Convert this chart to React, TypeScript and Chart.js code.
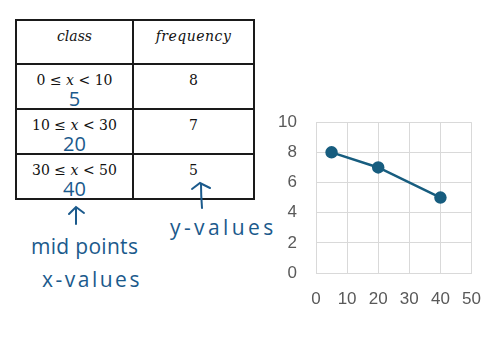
import React, { useEffect, useRef } from "react";
import { Chart, registerables } from "chart.js";

Chart.register(...registerables);

const classLabels = ["0 ≤ x < 10", "10 ≤ x < 30", "30 ≤ x < 50"];
const midpoints = [5, 20, 40];
const frequencies = [8, 7, 5];
const xTicks = [0, 10, 20, 30, 40, 50];
const yTicks = [0, 2, 4, 6, 8, 10];

const INK = "#1b5a8c";

function ClassText({ label }: { label: string }) {
  const parts = label.split("x");
  return (
    <span>
      {parts[0]}
      <i>x</i>
      {parts[1]}
    </span>
  );
}

function TableBox() {
  const rowsTop = [20, 64, 109, 154, 199];
  const left = 16;
  const mid = 133;
  const right = 254;
  const cellStyle: React.CSSProperties = {
    position: "absolute",
    fontFamily: "'DejaVu Serif', 'Liberation Serif', serif",
    fontSize: 14,
    color: "#111",
    textAlign: "center",
    whiteSpace: "nowrap",
  };
  const lines: React.ReactNode[] = [];
  rowsTop.forEach((y, i) =>
    lines.push(
      <div
        key={"h" + i}
        style={{ position: "absolute", left: left - 1, top: y - 1, width: right - left + 2, height: 2, background: "#1a1a1a" }}
      />
    )
  );
  [left, mid, right].forEach((x, i) =>
    lines.push(
      <div
        key={"v" + i}
        style={{ position: "absolute", left: x - 1, top: rowsTop[0] - 1, width: 2, height: rowsTop[4] - rowsTop[0] + 2, background: "#1a1a1a" }}
      />
    )
  );
  return (
    <>
      {lines}
      <div style={{ ...cellStyle, left, width: mid - left, top: 28, fontStyle: "italic" }}>class</div>
      <div style={{ ...cellStyle, left: mid, width: right - mid, top: 28, fontStyle: "italic", letterSpacing: 0.5 }}>frequency</div>
      {classLabels.map((c, i) => (
        <div key={"c" + i} style={{ ...cellStyle, left, width: mid - left, top: rowsTop[i + 1] + 8 }}>
          <ClassText label={c} />
        </div>
      ))}
      {frequencies.map((f, i) => (
        <div key={"f" + i} style={{ ...cellStyle, left: mid, width: right - mid, top: rowsTop[i + 1] + 8 }}>
          {f}
        </div>
      ))}
      {midpoints.map((m, i) => (
        <div
          key={"m" + i}
          style={{
            ...cellStyle,
            left,
            width: mid - left,
            top: rowsTop[i + 1] + 24,
            fontFamily: "'Open Sans', 'DejaVu Sans', sans-serif",
            fontSize: 20,
            color: INK,
            lineHeight: "22px",
          }}
        >
          {m}
        </div>
      ))}
    </>
  );
}

function Annotations() {
  const hand: React.CSSProperties = {
    position: "absolute",
    fontFamily: "'Open Sans', 'DejaVu Sans', sans-serif",
    fontSize: 21,
    color: INK,
    whiteSpace: "nowrap",
    lineHeight: "26px",
  };
  return (
    <>
      <svg style={{ position: "absolute", left: 0, top: 0 }} width={496} height={351}>
        <g stroke={INK} strokeWidth={2} fill="none" strokeLinecap="round">
          <path d="M76 224 L76 207 M69 214 L76 207 L84 213" />
          <path d="M202 208 Q201 195 201 184 M192 189 L200 183 L210 188" />
        </g>
      </svg>
      <div style={{ ...hand, left: 31, top: 233, letterSpacing: 0.3 }}>mid points</div>
      <div style={{ ...hand, left: 42, top: 266, letterSpacing: 2.5 }}>x-values</div>
      <div style={{ ...hand, left: 170, top: 214, letterSpacing: 3.4 }}>y-values</div>
    </>
  );
}

function LineChart() {
  const ref = useRef<HTMLCanvasElement | null>(null);
  useEffect(() => {
    if (!ref.current) return;
    const chart = new Chart(ref.current, {
      type: "scatter",
      data: {
        datasets: [
          {
            data: midpoints.map((x, i) => ({ x, y: frequencies[i] })),
            showLine: true,
            borderColor: "#175d7f",
            backgroundColor: "#175d7f",
            borderWidth: 2.5,
            pointRadius: 5,
            pointHoverRadius: 5,
          },
        ],
      },
      options: {
        animation: false,
        responsive: true,
        maintainAspectRatio: false,
        layout: { padding: 0 },
        plugins: { legend: { display: false }, tooltip: { enabled: false } },
        scales: {
          x: {
            type: "linear",
            min: 0,
            max: 50,
            afterBuildTicks: (s: any) => {
              s.ticks = xTicks.map((v) => ({ value: v }));
            },
            afterFit: (s: any) => {
              s.height = 40;
            },
            grid: { color: "#d9d9d9", drawTicks: false },
            border: { color: "#d9d9d9" },
            ticks: { color: "#595959", font: { family: "'Liberation Sans', Arial, sans-serif", size: 17 }, padding: 16, maxRotation: 0 },
          },
          y: {
            type: "linear",
            min: 0,
            max: 10,
            afterBuildTicks: (s: any) => {
              s.ticks = yTicks.map((v) => ({ value: v }));
            },
            afterFit: (s: any) => {
              s.width = 40;
            },
            grid: { color: "#d9d9d9", drawTicks: false },
            border: { color: "#d9d9d9" },
            ticks: { color: "#595959", font: { family: "'Liberation Sans', Arial, sans-serif", size: 17 }, padding: 19 },
          },
        },
      },
    });
    return () => chart.destroy();
  }, []);
  return (
    <div style={{ position: "absolute", left: 276, top: 93, width: 221, height: 220 }}>
      <canvas ref={ref} />
    </div>
  );
}

export default function App() {
  useEffect(() => {
    document.body.style.margin = "0";
    document.body.style.background = "#ffffff";
  }, []);
  return (
    <div style={{ position: "absolute", left: 0, top: 0, width: 496, height: 351, background: "#fff", overflow: "hidden" }}>
      <TableBox />
      <Annotations />
      <LineChart />
    </div>
  );
}
